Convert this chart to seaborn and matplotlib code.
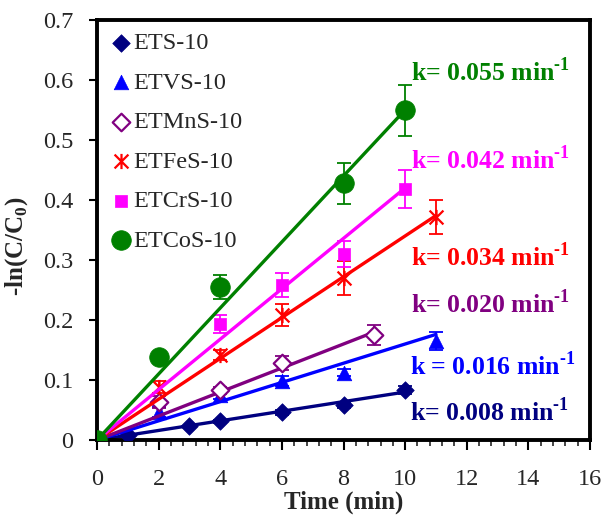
import numpy as np
import matplotlib
matplotlib.use('Agg')
import matplotlib.pyplot as plt
import seaborn as sns
import pandas as pd
from matplotlib.path import Path

sns.set_style("ticks")
plt.rcParams['font.family'] = ['Liberation Serif', 'DejaVu Serif']
plt.rcParams['mathtext.fontset'] = 'custom'
plt.rcParams['mathtext.rm'] = 'Liberation Serif'
plt.rcParams['mathtext.bf'] = 'Liberation Serif:bold'

# ====================== DATA ======================
labels = ['ETS-10', 'ETVS-10', 'ETMnS-10', 'ETFeS-10', 'ETCrS-10', 'ETCoS-10']
colors = ['#000080', '#0000FF', '#800080', '#FF0000', '#FF00FF', '#008000']

t_ets = [0, 1, 3, 4, 6, 8, 10]
y_ets = [0, 0.008, 0.024, 0.031, 0.046, 0.058, 0.083]
e_ets = [0, 0, 0, 0.003, 0.004, 0.005, 0.007]

t_etvs = [0, 2, 4, 6, 8, 11]
y_etvs = [0, 0.047, 0.075, 0.098, 0.112, 0.165]
e_etvs = [0, 0.008, 0.006, 0.008, 0.006, 0.015]

t_mn = [0, 2, 4, 6, 9]
y_mn = [0, 0.063, 0.083, 0.128, 0.175]
e_mn = [0, 0.01, 0.006, 0.012, 0.017]

t_fe = [0, 2, 4, 6, 8, 11]
y_fe = [0, 0.088, 0.142, 0.208, 0.27, 0.372]
e_fe = [0, 0.01, 0.008, 0.018, 0.028, 0.028]

t_cr = [0, 4, 6, 8, 10]
y_cr = [0, 0.193, 0.258, 0.31, 0.418]
e_cr = [0, 0.015, 0.02, 0.022, 0.032]

t_co = [0, 2, 4, 8, 10]
y_co = [0, 0.138, 0.255, 0.428, 0.549]
e_co = [0, 0, 0.02, 0.034, 0.042]

k_vals = [0.008, 0.016, 0.020, 0.034, 0.042, 0.055]
k_text = ['k= 0.008', 'k = 0.016', 'k= 0.020', 'k= 0.034', 'k= 0.042', 'k= 0.055']
k_pos = [(10.15, 0.047), (10.15, 0.124), (10.2, 0.228), (10.2, 0.305), (10.2, 0.467), (10.2, 0.614)]

series = [(t_ets, y_ets, e_ets), (t_etvs, y_etvs, e_etvs), (t_mn, y_mn, e_mn),
          (t_fe, y_fe, e_fe), (t_cr, y_cr, e_cr), (t_co, y_co, e_co)]

# x with a vertical bar
star = Path([(-1, -1), (1, 1), (-1, 1), (1, -1), (0, -1.1), (0, 1.1)],
            [Path.MOVETO, Path.LINETO, Path.MOVETO, Path.LINETO, Path.MOVETO, Path.LINETO])
markers = ['D', '^', 'D', star, 's', 'o']
msizes = [80, 110, 80, 120, 75, 200]

# ====================== PLOT ======================
fig = plt.figure(figsize=(6.08, 5.22), dpi=100)
ax = fig.add_axes([0.1595, 0.157, 0.811, 0.805])

for i, (t, y, e) in enumerate(series):
    c = colors[i]
    fit = pd.DataFrame({'t': [0, t[-1]], 'y': [0, k_vals[i] * t[-1]]})
    sns.lineplot(data=fit, x='t', y='y', color=c, lw=2.4, ax=ax, legend=False, zorder=2 + i)
    ax.errorbar(t, y, yerr=e, fmt='none', ecolor=c, elinewidth=1.3, capsize=5, capthick=1.3, zorder=2 + i)
    d = pd.DataFrame({'t': t, 'y': y})
    if i == 2:
        sns.scatterplot(data=d, x='t', y='y', marker='D', s=msizes[i], facecolor='white',
                        edgecolor=c, linewidth=1.6, ax=ax, label=labels[i], zorder=3 + i)
    elif i == 3:
        sns.scatterplot(data=d, x='t', y='y', marker=star, s=msizes[i], color=c,
                        edgecolor=c, linewidth=1.6, ax=ax, label=labels[i], zorder=3 + i)
    else:
        sns.scatterplot(data=d, x='t', y='y', marker=markers[i], s=msizes[i], color=c,
                        edgecolor=c, linewidth=0.5, ax=ax, label=labels[i], zorder=3 + i)
    tx, ty = k_pos[i]
    ax.text(tx, ty, k_text[i] + ' min$^{\\mathbf{\u20101}}$', color=c, fontsize=18.5,
            fontweight='bold', va='center', ha='left')

ax.set_xlim(0, 16)
ax.set_ylim(0, 0.7)
ax.set_xticks(np.arange(0, 17, 2))
ax.set_xticks(np.arange(0, 16.01, 0.4), minor=True)
ax.set_yticks(np.arange(0, 0.71, 0.1))
ax.set_yticklabels(['0'] + [f'{v:.1f}' for v in np.arange(0.1, 0.71, 0.1)])
ax.tick_params(axis='both', which='major', labelsize=17.5, direction='out', length=6, width=1.5, color='black')
ax.tick_params(axis='x', which='major', pad=14, length=7)
ax.tick_params(axis='x', which='minor', direction='out', length=4, width=1.2)
ax.tick_params(axis='y', which='major', pad=11)
for s in ax.spines.values():
    s.set_visible(True)
    s.set_linewidth(2.8)
    s.set_color('black')

ax.set_xlabel('Time (min)', fontsize=18, fontweight='bold', labelpad=0)
ax.set_ylabel(r'-ln(C/C$_{\mathbf{0}}$)', fontsize=18, fontweight='bold', labelpad=0)
ax.yaxis.set_label_coords(-0.135, 0.46)

ax.legend(loc='upper left', frameon=False, fontsize=17.5, handletextpad=0.0,
          labelspacing=0.72, borderaxespad=0.3, borderpad=0.2, handlelength=1.0, markerscale=1.0)

plt.savefig('out.png', dpi=100)
